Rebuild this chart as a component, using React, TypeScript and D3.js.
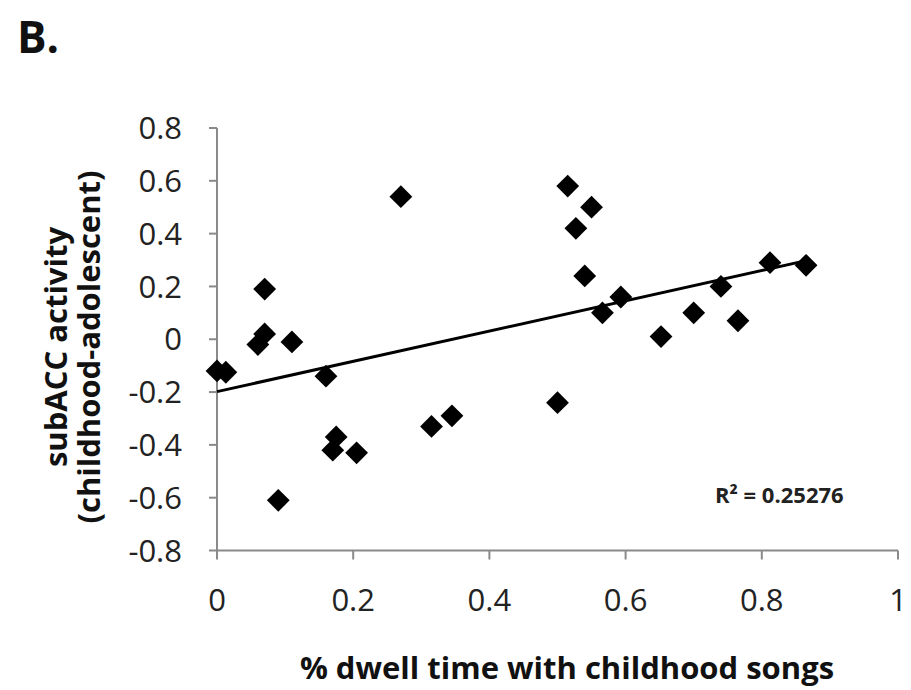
import * as d3 from 'd3'

// % dwell time with childhood songs vs subACC activity (childhood - adolescent)
const dwellTime = [
  0, 0.013, 0.07, 0.07, 0.06, 0.11, 0.16, 0.175, 0.17, 0.205, 0.09, 0.27, 0.315, 0.345,
  0.5, 0.515, 0.527, 0.55, 0.54, 0.566, 0.593, 0.652, 0.7, 0.74, 0.765, 0.812, 0.865,
]
const subAcc = [
  -0.12, -0.125, 0.19, 0.02, -0.02, -0.01, -0.14, -0.37, -0.42, -0.43, -0.61, 0.54, -0.33, -0.29,
  -0.24, 0.58, 0.42, 0.5, 0.24, 0.1, 0.16, 0.01, 0.1, 0.2, 0.07, 0.29, 0.28,
]
const xTicks = [0, 0.2, 0.4, 0.6, 0.8, 1]
const yTicks = [0.8, 0.6, 0.4, 0.2, 0, -0.2, -0.4, -0.6, -0.8]
const rSquaredLabel = 'R² = 0.25276'

const W = 911
const H = 690
const margin = { left: 217, right: 13, top: 128, bottom: 139.5 }
const font = '"Open Sans", sans-serif'

export default function App() {
  const x = d3.scaleLinear().domain([0, 1]).range([margin.left, W - margin.right])
  const y = d3.scaleLinear().domain([-0.8, 0.8]).range([H - margin.bottom, margin.top])

  const pts = dwellTime.map((d, i) => ({ x: d, y: subAcc[i] }))

  // least squares trendline, as Excel draws it across the data range
  const mx = d3.mean(dwellTime) as number
  const my = d3.mean(subAcc) as number
  const sxy = d3.sum(pts, (p) => (p.x - mx) * (p.y - my))
  const sxx = d3.sum(pts, (p) => (p.x - mx) ** 2)
  const slope = sxy / sxx
  const intercept = my - slope * mx
  const [x0, x1] = d3.extent(dwellTime) as [number, number]
  const trend = d3.line<number>().x((d) => x(d)).y((d) => y(intercept + slope * d))([x0, x1])

  const diamond = d3.symbol(d3.symbolSquare, 260)()
  const axisColor = '#8a8a8a'
  const y0 = y(-0.8)
  const xLeft = x(0)
  const fmt = (t: number) => (t === 0 || t === 1 ? String(t) : d3.format('.1f')(t).replace('−', '-'))

  return (
    <svg width={W} height={H} style={{ position: 'absolute', left: 0, top: 0, background: '#fff' }}>
      <text x={17} y={53} fontFamily={font} fontWeight={700} fontSize={44} fill="#111">B.</text>

      {/* y axis */}
      <line x1={xLeft} x2={xLeft} y1={y(0.8)} y2={y0} stroke={axisColor} strokeWidth={2} />
      {yTicks.map((t) => (
        <g key={'y' + t}>
          <line x1={xLeft - 8} x2={xLeft} y1={y(t)} y2={y(t)} stroke={axisColor} strokeWidth={2} />
          <text x={182} y={y(t)} dy="0.36em" textAnchor="end" fontFamily={font} fontSize={31} fill="#222">
            {fmt(t)}
          </text>
        </g>
      ))}

      {/* x axis */}
      <line x1={xLeft} x2={x(1)} y1={y0} y2={y0} stroke={axisColor} strokeWidth={2} />
      {xTicks.map((t) => (
        <g key={'x' + t}>
          <line x1={x(t)} x2={x(t)} y1={y0} y2={y0 + 9} stroke={axisColor} strokeWidth={2} />
          <text x={x(t)} y={600} dy="0.36em" textAnchor="middle" fontFamily={font} fontSize={31} fill="#222">
            {fmt(t)}
          </text>
        </g>
      ))}

      <path d={trend ?? ''} stroke="#000" strokeWidth={3} fill="none" />

      {pts.map((p, i) => (
        <path key={i} d={diamond ?? ''} transform={`translate(${x(p.x)},${y(p.y)}) rotate(45)`} fill="#000" />
      ))}

      <text x={715} y={503} fontFamily={font} fontWeight={700} fontSize={22} fill="#222">{rSquaredLabel}</text>

      <text x={567} y={679} textAnchor="middle" fontFamily={font} fontWeight={700} fontSize={31} fill="#111">
        % dwell time with childhood songs
      </text>

      <g transform="translate(67,347) rotate(-90)">
        <text x={0} y={0} textAnchor="middle" fontFamily={font} fontWeight={700} fontSize={31} fill="#111">subACC activity</text>
        <text x={0} y={33} textAnchor="middle" fontFamily={font} fontWeight={700} fontSize={31} fill="#111">(childhood-adolescent)</text>
      </g>
    </svg>
  )
}
